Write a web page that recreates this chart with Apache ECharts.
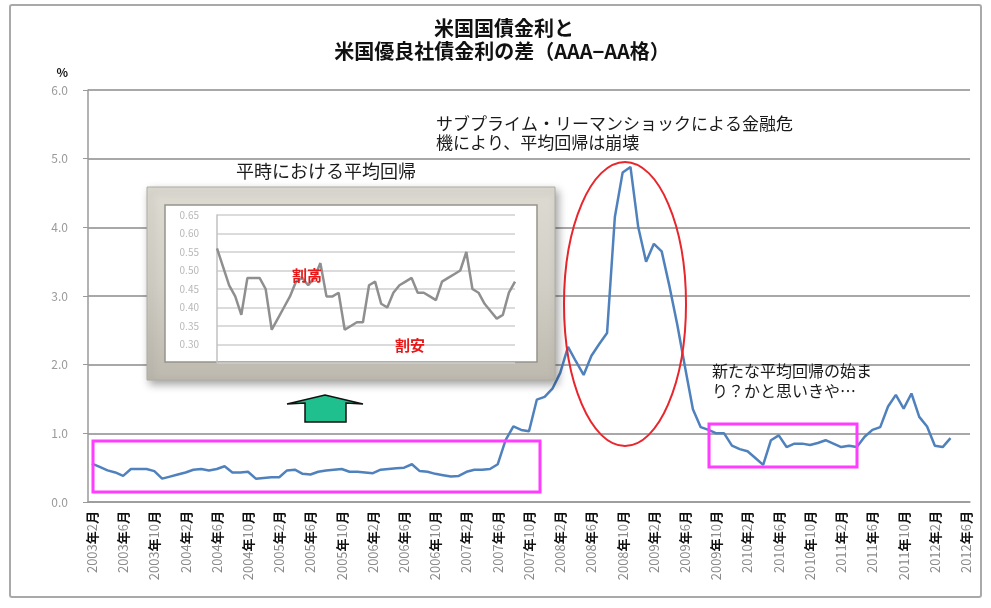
<!DOCTYPE html>
<html>
<head>
<meta charset="utf-8">
<script src="https://cdn.jsdelivr.net/npm/echarts@6/dist/echarts.min.js"></script>
<style>html,body{margin:0;padding:0;background:#fff;}#c{width:991px;height:608px;}</style>
</head>
<body>
<div id="c"></div>
<script>
// ---- data ----
const startYear = 2003, startMonth = 2, monthCount = 113;
const categories = [];
for (let k = 0; k < monthCount; k++) {
  const t = startMonth - 1 + k;
  categories.push((startYear + Math.floor(t / 12)) + '年' + (t % 12 + 1) + '月');
}
// spread (AAA - AA), %
const spread = [
  0.56, 0.51, 0.46, 0.43, 0.38, 0.48, 0.48, 0.48, 0.45, 0.34,
  0.37, 0.40, 0.43, 0.47, 0.48, 0.46, 0.48, 0.52, 0.43, 0.43,
  0.44, 0.34, 0.35, 0.36, 0.36, 0.46, 0.47, 0.41, 0.40, 0.44,
  0.46, 0.47, 0.48, 0.44, 0.44, 0.43, 0.42, 0.47, 0.48, 0.49,
  0.50, 0.55, 0.45, 0.44, 0.41, 0.39, 0.37, 0.38, 0.44, 0.47,
  0.47, 0.48, 0.55, 0.90, 1.10, 1.05, 1.03, 1.49, 1.53, 1.65,
  1.88, 2.26, 2.05, 1.85, 2.13, 2.30, 2.46, 4.15, 4.80, 4.88,
  4.00, 3.50, 3.76, 3.65, 3.14, 2.58, 1.96, 1.35, 1.09, 1.05,
  1.00, 1.00, 0.82, 0.77, 0.74, 0.64, 0.54, 0.90, 0.97, 0.80,
  0.85, 0.85, 0.83, 0.86, 0.90, 0.85, 0.80, 0.82, 0.80, 0.95,
  1.05, 1.09, 1.39, 1.56, 1.36, 1.58, 1.24, 1.10, 0.82, 0.80,
  0.93, null, null
];
const yTicks = { min: 0, max: 6, interval: 1 };
// inset: calm period close-up
const insetCount = 50;
const insetTicks = { min: 0.25, max: 0.65, interval: 0.05 };
const cheapLevel = 0.38, cheapFrom = 5, cheapTo = 47;

const titleLines = ['米国国債金利と', '米国優良社債金利の差（AAA−AA格）'];
const notes = {
  crisis: 'サブプライム・リーマンショックによる金融危\n機により、平均回帰は崩壊',
  calm: '平時における平均回帰',
  fresh: '新たな平均回帰の始ま\nり？かと思いきや…',
  rich: '割高',
  cheap: '割安'
};

const FONT = 'Noto Sans CJK JP';
const chart = echarts.init(document.getElementById('c'), null, { renderer: 'canvas' });

const insetCats = categories.slice(0, insetCount);
const insetData = spread.slice(0, insetCount);

chart.setOption({
  animation: false,
  backgroundColor: '#fff',
  textStyle: { fontFamily: FONT },
  grid: [
    { left: 88, right: 21, top: 90, bottom: 106 },
    { left: 217, right: 476, top: 215, bottom: 245 }
  ],
  xAxis: [
    {
      type: 'category', gridIndex: 0, data: categories, boundaryGap: true,
      axisLine: { lineStyle: { color: '#9a9a9a', width: 1.5 } },
      axisTick: { interval: 3, alignWithLabel: true, length: 5, lineStyle: { color: '#9a9a9a' } },
      axisLabel: {
        interval: 3, rotate: 90, margin: 9,
        formatter: function (v) {
          const m = v.match(/(\d+)年(\d+)月/);
          return '{d|' + m[1] + '}{k|年}{d|' + m[2] + '}{k|月}';
        },
        rich: {
          d: { color: '#8a8a8a', fontSize: 13, fontFamily: FONT },
          k: { color: '#111', fontSize: 13, fontWeight: 'bold', fontFamily: FONT }
        }
      },
      splitLine: { show: false }
    },
    {
      type: 'category', gridIndex: 1, data: insetCats, boundaryGap: false, show: false, z: 60
    }
  ],
  yAxis: [
    {
      type: 'value', gridIndex: 0, min: yTicks.min, max: yTicks.max, interval: yTicks.interval,
      axisLine: { show: true, lineStyle: { color: '#9a9a9a', width: 1.5 } },
      axisTick: { show: true, length: 5, lineStyle: { color: '#9a9a9a' } },
      axisLabel: { color: '#9a9a9a', fontSize: 12, margin: 20, formatter: v => v.toFixed(1) },
      splitLine: { lineStyle: { color: '#a8a8a8', width: 2 } },
      name: '%', nameLocation: 'end', nameGap: 12,
      nameTextStyle: { color: '#111', fontWeight: 'bold', fontSize: 12, align: 'right', padding: [0, 20, 0, 0] }
    },
    {
      type: 'value', gridIndex: 1, min: insetTicks.min, max: insetTicks.max, interval: insetTicks.interval, z: 60,
      axisLine: { show: true, lineStyle: { color: '#c0c0c0', width: 1.5 } },
      axisTick: { show: false },
      axisLabel: { color: '#b8b8b8', fontSize: 10, margin: 18, showMinLabel: false, formatter: v => v.toFixed(2) },
      splitLine: { lineStyle: { color: '#cfcfcf', width: 1.5 } }
    }
  ],
  series: [
    {
      type: 'line', xAxisIndex: 0, yAxisIndex: 0, data: spread, showSymbol: false,
      lineStyle: { color: '#4f81bd', width: 2.5 }, z: 2
    },
    {
      type: 'line', xAxisIndex: 1, yAxisIndex: 1, data: insetData, showSymbol: false,
      lineStyle: { color: '#8f8f8f', width: 2.5 }, z: 61,
      markLine: {
        silent: true, symbol: 'none', label: { show: false },
        lineStyle: { color: '#ee1c1c', width: 2, type: 'solid' },
        data: [[{ coord: [cheapFrom, cheapLevel] }, { coord: [cheapTo, cheapLevel] }]]
      }
    }
  ],
  graphic: {
    elements: [
      // outer chart border
      { type: 'rect', z: 1, shape: { x: 10, y: 5, width: 971, height: 592, r: 2 },
        style: { fill: 'none', stroke: '#a9a9a9', lineWidth: 2 } },
      // title
      { type: 'text', z: 80, x: 504, y: 28, style: { text: titleLines[0], font: 'bold 20px "' + FONT + '"', fill: '#111', textAlign: 'center', textVerticalAlign: 'middle' } },
      { type: 'text', z: 80, x: 502, y: 51, style: { text: titleLines[1], font: 'bold 20px "' + FONT + '"', fill: '#111', textAlign: 'center', textVerticalAlign: 'middle' } },
      // inset frame
      { type: 'rect', z: 50, shape: { x: 147, y: 187, width: 408, height: 193 },
        style: {
          fill: new echarts.graphic.LinearGradient(0, 0, 0, 1, [
            { offset: 0, color: '#dedbd3' }, { offset: 0.5, color: '#d2cfc6' }, { offset: 1, color: '#bdb9af' }
          ]),
          stroke: '#b0aca2', lineWidth: 1,
          shadowBlur: 8, shadowOffsetX: 3, shadowOffsetY: 4, shadowColor: 'rgba(0,0,0,0.35)'
        } },
      { type: 'rect', z: 51, shape: { x: 165, y: 205, width: 372, height: 157 },
        style: { fill: '#ffffff', stroke: '#97948b', lineWidth: 1.5 } },
      { type: 'text', z: 70, x: 307, y: 275, style: { text: notes.rich, font: 'bold 15px "' + FONT + '"', fill: '#e81818', textAlign: 'center', textVerticalAlign: 'middle' } },
      { type: 'text', z: 70, x: 410, y: 345, style: { text: notes.cheap, font: 'bold 15px "' + FONT + '"', fill: '#e81818', textAlign: 'center', textVerticalAlign: 'middle' } },
      // annotations
      { type: 'text', z: 80, x: 236, y: 171, style: { text: notes.calm, font: '18px "' + FONT + '"', fill: '#1a1a1a', textVerticalAlign: 'middle' } },
      { type: 'text', z: 80, x: 436, y: 114, style: { text: notes.crisis, font: '17px "' + FONT + '"', fill: '#1a1a1a', lineHeight: 19 } },
      { type: 'text', z: 80, x: 712, y: 361, style: { text: notes.fresh, font: '16px "' + FONT + '"', fill: '#1a1a1a', lineHeight: 20 } },
      // red ellipse
      { type: 'ellipse', z: 40, shape: { cx: 625, cy: 304, rx: 61, ry: 142 },
        style: { fill: 'none', stroke: '#e8262c', lineWidth: 2 } },
      // magenta boxes
      { type: 'rect', z: 40, shape: { x: 93, y: 441, width: 447, height: 51 },
        style: { fill: 'none', stroke: '#ff3cff', lineWidth: 3 } },
      { type: 'rect', z: 40, shape: { x: 709, y: 424, width: 148, height: 43 },
        style: { fill: 'none', stroke: '#ff3cff', lineWidth: 3 } },
      // green up arrow
      { type: 'polygon', z: 40, shape: { points: [[287, 404], [325, 395], [363, 404], [346, 403], [346, 422], [305, 422], [305, 403]] },
        style: { fill: '#1fc08e', stroke: '#111', lineWidth: 1.5 } }
    ]
  }
});
</script>
</body>
</html>
